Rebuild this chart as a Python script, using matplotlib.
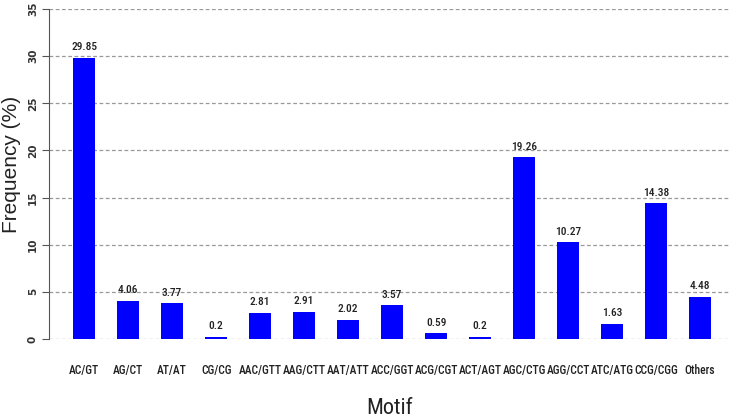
import matplotlib
matplotlib.use("Agg")
import matplotlib.pyplot as plt
from matplotlib import font_manager as fm

motifs = ["AC/GT", "AG/CT", "AT/AT", "CG/CG", "AAC/GTT", "AAG/CTT", "AAT/ATT",
          "ACC/GGT", "ACG/CGT", "ACT/AGT", "AGC/CTG", "AGG/CCT", "ATC/ATG",
          "CCG/CGG", "Others"]
freq = [29.85, 4.06, 3.77, 0.2, 2.81, 2.91, 2.02, 3.57, 0.59, 0.2, 19.26,
        10.27, 1.63, 14.38, 4.48]
yticks = [0, 5, 10, 15, 20, 25, 30, 35]

# pick condensed fonts if any are installed
cands = []
for f in fm.fontManager.ttflist:
    nm = f.name
    st = str(f.stretch).lower()
    if ("Narrow" in nm or "Condensed" in nm or "condensed" in st) and f.style == "normal":
        w = f.weight if isinstance(f.weight, int) else 400
        cands.append((nm, w, f.fname))


def pick(target_w):
    if not cands:
        return None
    pref = sorted(cands, key=lambda c: (0 if "Liberation" in c[0] else 1 if "Roboto" in c[0]
                                        else 2 if "DejaVu Sans" == c[0] else 3,
                                        abs(c[1] - target_w)))
    return fm.FontProperties(fname=pref[0][2])


font_med = pick(500)
font_reg = pick(400)


def nprops(size, base):
    if base is not None:
        p = base.copy()
        p.set_size(size)
        return p
    return fm.FontProperties(family=["Liberation Sans", "DejaVu Sans"], size=size * 0.85)


fig = plt.figure(figsize=(7.3, 4.2), dpi=100)
ax = fig.add_axes([49/730, 1-339/420, 1-49/730, 330/420])
x = list(range(len(motifs)))
ax.bar(x, freq, width=0.5, color="#0000ff", zorder=3)
for xi, v in zip(x, freq):
    ax.text(xi, v + 0.6, f"{v:g}", ha="center", va="bottom",
            fontproperties=nprops(8.2, font_med), color="#222222")
ax.set_xlim(-0.8, 14.68)
ax.set_ylim(0, 35)
ax.set_yticks(yticks)
ax.set_yticklabels([str(t) for t in yticks], rotation=90, va="center",
                   fontsize=7.5, fontweight="bold", color="#333333")
ax.yaxis.grid(True, linestyle=(0, (3, 2)), color="#999999", linewidth=0.9, zorder=0)
ax.set_xticks(x)
ax.set_xticklabels(motifs, fontproperties=nprops(8.3, font_med), color="#222222")
ax.tick_params(axis="x", length=0, pad=18)
ax.tick_params(axis="y", length=5, color="#555555", pad=3)
for s in ["top", "right", "bottom"]:
    ax.spines[s].set_visible(False)
ax.spines["left"].set_color("#555555")
ax.set_xlabel("Motif", fontproperties=nprops(16, font_reg), color="#222222")
ax.xaxis.set_label_coords(0.5, -(409 - 339) / 330)
ax.xaxis.label.set_va("center")
ax.set_ylabel("Frequency (%)", fontsize=15, family=["Liberation Sans", "DejaVu Sans"],
              color="#222222")
ax.yaxis.set_label_coords(-(49 - 12) / 681, (339 - 164) / 330)
ax.yaxis.label.set_va("center")
fig.savefig("out.png", dpi=100)
